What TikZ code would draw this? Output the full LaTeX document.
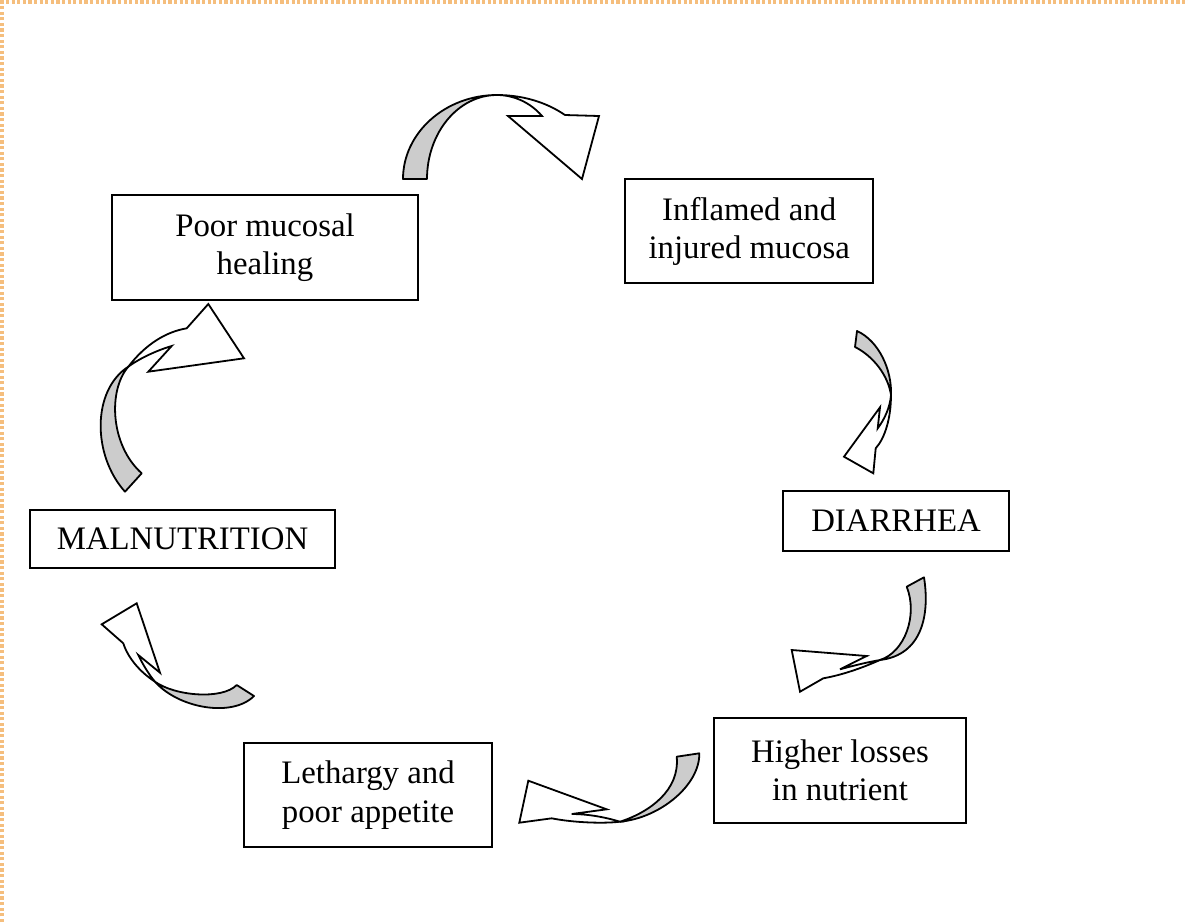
\documentclass[tikz,border=0pt]{standalone}
\usepackage{fontspec}
\usepackage{xcolor}
\usepackage{tikz}
\setmainfont{Liberation Serif}
\definecolor{bandgray}{RGB}{204, 204, 204}
\definecolor{frameorange}{RGB}{245, 190, 125}
\tikzset{
 cyclebox/.style={
 rectangle,
 draw=black,
 fill=white,
 line width=1pt,
 align=center,
 inner sep=0pt,
 font=\fontsize{16.4}{19.2}\selectfont
 },
 bandback/.style={draw=black, fill=bandgray, line width=0.9pt, line join=round},
 bandfront/.style={draw=black, fill=white, line width=0.9pt, line join=miter},
 pageframe/.style={draw=frameorange, line width=1.6pt, dash pattern=on 1.6pt off 1.2pt}
}

\begin{document}
\begin{tikzpicture}[x=0.5pt,y=-0.5pt]
	\useasboundingbox (0,0) rectangle (1188,922);
	\draw[pageframe] (2,922) |- (1188,2);

	\node[cyclebox, minimum width=153.3pt, minimum height=52.5pt] (poor) at (265,247.5) {Poor mucosal\\healing};
	\node[cyclebox, minimum width=124.2pt, minimum height=52pt] (inflamed) at (749.2,231.3) {Inflamed and\\injured mucosa};
	\node[cyclebox, minimum width=113.3pt, minimum height=29.9pt] (diarrhea) at (896,520.9) {DIARRHEA};
	\node[cyclebox, minimum width=126pt, minimum height=52.8pt] (losses) at (840,770.5) {Higher losses\\in nutrient};
	\node[cyclebox, minimum width=123.7pt, minimum height=51.7pt] (lethargy) at (368,795) {Lethargy and\\poor appetite};
	\node[cyclebox, minimum width=152.5pt, minimum height=29pt] (malnutrition) at (182.5,539) {MALNUTRITION};

	% poor healing -> inflamed mucosa
	\filldraw[bandback] (403,179) .. controls (403,133) and (445,95) .. (497,95)
		.. controls (458,95) and (427,133) .. (427,179) -- cycle;
	\filldraw[bandfront] (497,95) .. controls (522,95) and (546,102) .. (565,115)
		-- (599,116) -- (582,179) -- (508,116) -- (542,116)
		.. controls (530,102) and (513,95) .. (497,95) -- cycle;

	% inflamed mucosa -> diarrhea
	\filldraw[bandback] (857,331) .. controls (879,341) and (892,370) .. (891,395)
		.. controls (888,375) and (873,356) .. (855,347) -- cycle;
	\filldraw[bandfront] (891,395) .. controls (891,418) and (885,438) .. (875.7,448.3)
		-- (873.3,473.3) -- (844,456.7) -- (880,407.3) -- (877.7,428.3)
		.. controls (884,420) and (890,408) .. (891,395) -- cycle;

	% diarrhea -> losses
	\filldraw[bandback] (924,577.3) .. controls (930,615) and (922,655) .. (880,660)
		.. controls (905,652) and (918,615) .. (906.7,586.7) -- cycle;
	\filldraw[bandfront] (880,660) .. controls (862,668) and (842,675) .. (823.3,678.3)
		-- (800,691.7) -- (791.7,650) -- (866.7,656) -- (840,669.3)
		.. controls (852,666) and (868,662) .. (880,660) -- cycle;

	% losses -> lethargy
	\filldraw[bandback] (699.3,753.3) .. controls (700,785) and (660,818) .. (620,821.7)
		.. controls (650,812) and (680,790) .. (676.7,756.7) -- cycle;
	\filldraw[bandfront] (620,821.7) .. controls (600,824) and (570,822) .. (551.7,818.3)
		-- (519.3,822.7) -- (528.3,780.7) -- (606.7,809.3) -- (571.7,814)
		.. controls (590,814) and (608,818) .. (620,821.7) -- cycle;

	% lethargy -> malnutrition
	\filldraw[bandback] (254,696) .. controls (232,718) and (178,708) .. (155,681.7)
		.. controls (175,696) and (222,700) .. (236.7,685) -- cycle;
	\filldraw[bandfront] (155,681.7) .. controls (140,672) and (128,658) .. (123.3,643.3)
		-- (101.7,624.3) -- (136.7,603.3) -- (160,672.7) -- (138.3,655)
		.. controls (143,665) and (150,676) .. (155,681.7) -- cycle;

	% malnutrition -> poor healing
	\filldraw[bandback] (125,491.7) .. controls (92,455) and (92,390) .. (128.3,366.7)
		.. controls (108,390) and (110,445) .. (141.7,473.3) -- cycle;
	\filldraw[bandfront] (128.3,366.7) .. controls (145,345) and (165,332) .. (186.7,328.3)
		-- (208.3,304) -- (244,358.3) -- (148.3,371.7) -- (171.7,346)
		.. controls (158,350) and (140,358) .. (128.3,366.7) -- cycle;
\end{tikzpicture}
\end{document}
